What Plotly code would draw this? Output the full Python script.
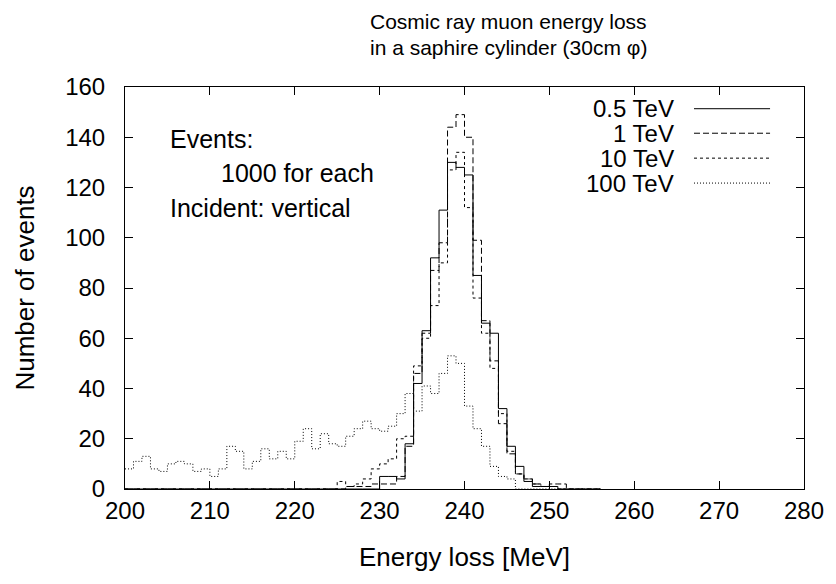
import plotly.graph_objects as go

# Bin left edges (MeV), 1 MeV wide bins
bin_left = list(range(200, 256))

# Counts per bin (200..255 MeV)
tev_0_5 = [0, 0, 0, 0, 0, 0, 0, 0, 0, 0,
           0, 0, 0, 0, 0, 0, 0, 0, 0, 0,
           0, 0, 0, 0, 0, 0, 0, 0, 0, 0,
           5, 5, 4, 18, 42, 63, 92, 111, 130, 128,
           125, 85, 66, 62, 32, 17, 9, 3, 1, 1,
           1, 0, 0, 0, 0, 0]
tev_1 = [0, 0, 0, 0, 0, 0, 0, 0, 0, 0,
         0, 0, 0, 0, 0, 0, 0, 0, 0, 0,
         0, 0, 0, 0, 0, 0, 1, 1, 1, 2,
         2, 2, 5, 17, 46, 62, 87, 98, 144, 149,
         140, 99, 67, 51, 26, 14, 6, 4, 2, 1,
         2, 2, 0, 0, 0, 0]
tev_10 = [0, 0, 0, 0, 0, 0, 0, 0, 0, 0,
          0, 0, 0, 0, 0, 0, 0, 0, 0, 0,
          0, 0, 0, 0, 0, 3, 1, 2, 4, 8,
          10, 12, 20, 21, 49, 60, 73, 90, 127, 134,
          112, 76, 62, 48, 30, 15, 6, 4, 2, 1,
          1, 0, 0, 0, 0, 0]
tev_100 = [8, 11, 13, 8, 7, 10, 11, 10, 7, 8,
           5, 8, 17, 15, 8, 11, 16, 12, 15, 12,
           19, 24, 16, 22, 18, 17, 21, 24, 27, 24,
           23, 25, 30, 38, 31, 41, 38, 46, 53, 50,
           33, 24, 17, 9, 5, 4, 0, 0, 0, 0,
           0, 0, 0, 0, 0, 0]

series_names = ["0.5 TeV", "1 TeV", "10 TeV", "100 TeV"]
series_values = [tev_0_5, tev_1, tev_10, tev_100]
series_dash = ["solid", "6px,3px", "3px,3px", "1px,2px"]

x_ticks = [200, 210, 220, 230, 240, 250, 260, 270, 280]
y_ticks = [0, 20, 40, 60, 80, 100, 120, 140, 160]

FONT = "Liberation Sans, Arial, Helvetica, sans-serif"

fig = go.Figure()
for name, vals, dash in zip(series_names, series_values, series_dash):
    xs = bin_left + [bin_left[-1] + 1]
    ys = vals + [0]
    fig.add_trace(go.Scatter(
        x=xs, y=ys, mode="lines", line_shape="hv", name=name,
        line=dict(color="black", width=1, dash=dash),
        showlegend=False, hoverinfo="skip"))

# gnuplot-style key: text right-justified, sample line to its right
key_y = [0.946, 0.885, 0.823, 0.761]
for name, dash, ky in zip(series_names, series_dash, key_y):
    fig.add_annotation(xref="paper", yref="paper", x=0.811, y=ky,
                       text=name, showarrow=False, xanchor="right",
                       yanchor="middle",
                       font=dict(family=FONT, size=24, color="black"))
    fig.add_shape(type="line", xref="paper", yref="paper",
                  x0=0.838, x1=0.950, y0=ky, y1=ky,
                  line=dict(color="black", width=1, dash=dash))

# labels inside plot
fig.add_annotation(xref="paper", yref="paper", x=0.064, y=0.871,
                   text="Events:", showarrow=False, xanchor="left",
                   yanchor="middle", font=dict(family=FONT, size=25, color="black"))
fig.add_annotation(xref="paper", yref="paper", x=0.370, y=0.786,
                   text="1000 for each", showarrow=False, xanchor="right",
                   yanchor="middle", font=dict(family=FONT, size=25, color="black"))
fig.add_annotation(xref="paper", yref="paper", x=0.064, y=0.699,
                   text="Incident: vertical", showarrow=False, xanchor="left",
                   yanchor="middle", font=dict(family=FONT, size=25, color="black"))

# two-line title
fig.add_annotation(xref="paper", yref="paper", x=0.565, y=1.1617,
                   text="Cosmic ray muon energy loss", showarrow=False,
                   xanchor="center", yanchor="middle",
                   font=dict(family=FONT, size=21, color="black"))
fig.add_annotation(xref="paper", yref="paper", x=0.565, y=1.0995,
                   text="in a saphire cylinder (30cm φ)", showarrow=False,
                   xanchor="center", yanchor="middle",
                   font=dict(family=FONT, size=21, color="black"))

axis_common = dict(showline=True, linecolor="black", linewidth=1, mirror="ticks",
                   ticks="inside", ticklen=8, tickcolor="black", showgrid=False,
                   zeroline=False, tickfont=dict(family=FONT, size=24, color="black"))

fig.update_layout(
    width=828, height=576,
    margin=dict(l=117, r=26, t=79, b=95),
    paper_bgcolor="white", plot_bgcolor="white",
    xaxis=dict(range=[200, 280], tickvals=x_ticks,
               title=dict(text="Energy loss [MeV]", standoff=25,
                          font=dict(family=FONT, size=26, color="black")),
               **axis_common),
    yaxis=dict(range=[0, 160], tickvals=y_ticks, ticklabelstandoff=14,
               title=dict(text="Number of events", standoff=23,
                          font=dict(family=FONT, size=26, color="black")),
               **axis_common),
)

fig.write_html("out.html")
